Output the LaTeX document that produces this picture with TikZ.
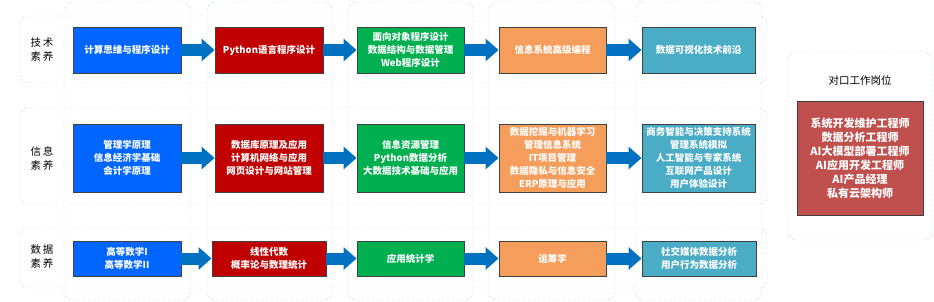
\documentclass[tikz,border=0pt]{standalone}
\usepackage{fontspec}
\newfontfamily\cjk{Noto Sans CJK SC}
\usetikzlibrary{arrows.meta}
\definecolor{pinkdash}{HTML}{F2C9C9}
\definecolor{bluedash}{HTML}{C3D6F0}
\definecolor{flowblue}{HTML}{0070C0}
\definecolor{skyblue}{HTML}{0066FF}
\definecolor{deepred}{HTML}{C00000}
\definecolor{leafgreen}{HTML}{00B050}
\definecolor{peach}{HTML}{F59D5A}
\definecolor{teal}{HTML}{4BACC6}
\definecolor{brick}{HTML}{C0504D}
\begin{document}
\begin{tikzpicture}[x=1pt,y=-1pt,every node/.style={font=\cjk},
    rowframe/.style={draw=pinkdash,dash pattern=on 3pt off 2pt,rounded corners=8pt},
    colframe/.style={draw=bluedash,dash pattern=on 3pt off 2pt,rounded corners=8pt},
    course/.style={draw=black!75,line width=.9pt,text=white,align=center,inner sep=0pt,
        font=\cjk\bfseries\fontsize{9.5}{13}\selectfont},
    rowlabel/.style={align=center,font=\cjk\fontsize{10.5}{14}\selectfont},
    flow/.style={draw=flowblue,line width=12pt,-{Triangle[length=13pt,width=22pt]}}]
    \useasboundingbox (0,0) rectangle (934,302);
    \draw[rowframe] (20,16) rectangle (767,83);
    \draw[rowframe] (20,108) rectangle (767,204);
    \draw[rowframe] (20,228) rectangle (767,288);
    \draw[colframe] (64,2) rectangle (190,300);
    \draw[colframe] (207,2) rectangle (332,300);
    \draw[colframe] (348,2) rectangle (473,300);
    \draw[colframe] (489,2) rectangle (615,300);
    \draw[colframe] (635,2) rectangle (762,300);
    \draw[colframe] (788,52) rectangle (932,240);

    \node[rowlabel] (techlabel) at (42,50) {技\,术\\素\,养};
    \node[rowlabel] (infolabel) at (42,158) {信\,息\\素\,养};
    \node[rowlabel] (datalabel) at (42,257) {数\,据\\素\,养};

    \node[course,fill=skyblue,minimum width=108pt,minimum height=46pt] (tech1) at (127,50) {计算思维与程序设计};
    \node[course,fill=deepred,minimum width=108pt,minimum height=46pt] (tech2) at (269,50) {Python语言程序设计};
    \node[course,fill=leafgreen,minimum width=107pt,minimum height=46pt] (tech3) at (410.5,50) {面向对象程序设计\\数据结构与数据管理\\Web程序设计};
    \node[course,fill=peach,minimum width=107pt,minimum height=46pt] (tech4) at (552.5,50) {信息系统高级编程};
    \node[course,fill=teal,minimum width=113pt,minimum height=46pt] (tech5) at (698.5,50) {数据可视化技术前沿};

    \node[course,fill=skyblue,minimum width=108pt,minimum height=68pt] (info1) at (127,158) {管理学原理\\信息经济学基础\\会计学原理};
    \node[course,fill=deepred,minimum width=108pt,minimum height=68pt] (info2) at (269,158) {数据库原理及应用\\计算机网络与应用\\网页设计与网站管理};
    \node[course,fill=leafgreen,minimum width=107pt,minimum height=68pt] (info3) at (410.5,158) {信息资源管理\\Python数据分析\\大数据技术基础与应用};
    \node[course,fill=peach,minimum width=107pt,minimum height=68pt] (info4) at (552.5,158) {数据挖掘与机器学习\\管理信息系统\\IT项目管理\\数据隐私与信息安全\\ERP原理与应用};
    \node[course,fill=teal,minimum width=113pt,minimum height=68pt] (info5) at (698.5,158) {商务智能与决策支持系统\\管理系统模拟\\人工智能与专家系统\\互联网产品设计\\用户体验设计};

    \node[course,fill=skyblue,minimum width=108pt,minimum height=35pt] (data1) at (127,258.5) {高等数学I\\高等数学II};
    \node[course,fill=deepred,minimum width=114pt,minimum height=35pt] (data2) at (269,258.5) {线性代数\\概率论与数理统计};
    \node[course,fill=leafgreen,minimum width=107pt,minimum height=35pt] (data3) at (410.5,258.5) {应用统计学};
    \node[course,fill=peach,minimum width=107pt,minimum height=35pt] (data4) at (552.5,258.5) {运筹学};
    \node[course,fill=teal,minimum width=114pt,minimum height=35pt] (data5) at (699,258.5) {社交媒体数据分析\\用户行为数据分析};

    \node[font=\cjk\fontsize{10.5}{14}\selectfont] (jobtitle) at (860,80) {对口工作岗位};
    \node[course,fill=brick,minimum width=126pt,minimum height=114pt,font=\cjk\bfseries\fontsize{11}{14}\selectfont] (jobs) at (860,158) {系统开发维护工程师\\数据分析工程师\\AI大模型部署工程师\\AI应用开发工程师\\AI产品经理\\私有云架构师};

    \foreach \row in {tech,info,data}{
        \draw[flow] (\row1.east) -- (\row2.west);
        \draw[flow] (\row2.east) -- (\row3.west);
        \draw[flow] (\row3.east) -- (\row4.west);
        \draw[flow] (\row4.east) -- (\row5.west);
    }
\end{tikzpicture}
\end{document}
